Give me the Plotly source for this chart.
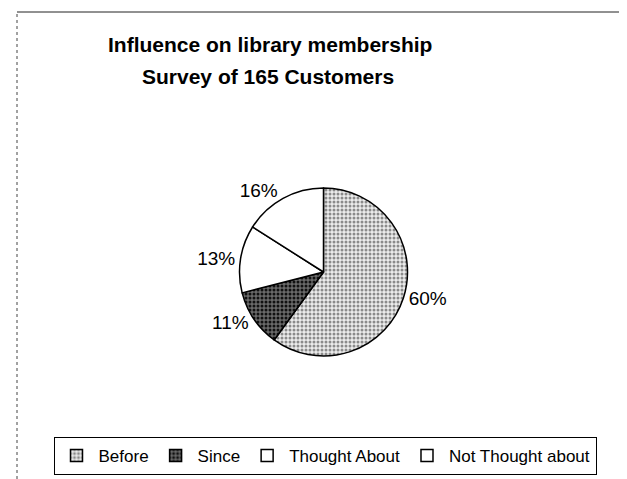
import plotly.graph_objects as go

categories = ["Before", "Since", "Thought About", "Not Thought about"]
values = [60, 11, 13, 16]
title_lines = ["Influence on library membership", "Survey of 165 Customers"]

# page body has an 8px margin; figure sized to fit the window
OFF = 8
W, H = 627 - OFF, 479 - OFF


def px(x):
    return (x - OFF) / W


def py(y):
    return 1 - (y - OFF) / H


fig = go.Figure(
    go.Pie(
        labels=categories,
        values=values,
        sort=False,
        direction="clockwise",
        rotation=0,
        textinfo="percent",
        textposition="outside",
        texttemplate="%{percent:.0%}",
        textfont=dict(family="Liberation Sans, Arial", size=19, color="black"),
        marker=dict(
            colors=["#e6e6e6", "#5a5a5a", "white", "white"],
            line=dict(color="black", width=1.5),
            pattern=dict(
                shape=[".", ".", "", ""],
                fgcolor=["#8a8a8a", "#111111", "white", "white"],
                bgcolor=["#ececec", "#6a6a6a", "white", "white"],
                size=4,
                solidity=0.45,
            ),
        ),
        domain=dict(x=[px(239), px(408)], y=[py(356), py(188)]),
        showlegend=True,
        hoverinfo="label+percent",
    )
)

title_font = dict(family="Liberation Sans, Arial", size=21, color="black", weight="bold")

fig.update_layout(
    width=W,
    height=H,
    margin=dict(l=0, r=0, t=0, b=0),
    paper_bgcolor="white",
    plot_bgcolor="white",
    font=dict(family="Liberation Sans, Arial", color="black"),
    annotations=[
        dict(text=title_lines[0], xref="paper", yref="paper", x=px(270), y=py(45),
             xanchor="center", yanchor="middle", showarrow=False, font=title_font),
        dict(text=title_lines[1], xref="paper", yref="paper", x=px(268), y=py(77),
             xanchor="center", yanchor="middle", showarrow=False, font=title_font),
    ],
    legend=dict(
        orientation="h",
        x=px(325),
        xanchor="center",
        y=py(437),
        yanchor="top",
        font=dict(family="Liberation Sans, Arial", size=17, color="black"),
        bordercolor="black",
        borderwidth=1,
        bgcolor="white",
        itemwidth=34,
    ),
    shapes=[
        dict(type="line", xref="paper", yref="paper",
             x0=px(17), x1=1, y0=py(12), y1=py(12),
             line=dict(color="#222", width=1)),
        dict(type="line", xref="paper", yref="paper",
             x0=px(17), x1=px(17), y0=0, y1=py(12),
             line=dict(color="#444", width=1, dash="dot")),
    ],
)

fig.write_html("out.html")
